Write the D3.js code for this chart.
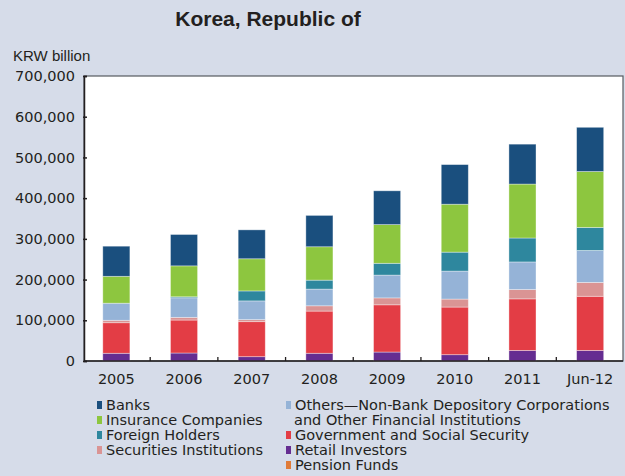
<!DOCTYPE html>
<html>
<head>
<meta charset="utf-8">
<script src="https://cdn.jsdelivr.net/npm/d3@7"></script>
<style>
  html, body { margin: 0; padding: 0; background: #d6dce9; }
  svg { display: block; }
  text { font-family: "DejaVu Sans", Verdana, sans-serif; fill: #231f20; }
</style>
</head>
<body>
<svg id="chart" width="625" height="476"></svg>
<script>
// Holdings of local-currency government bonds, KRW billion
const categories = ["2005", "2006", "2007", "2008", "2009", "2010", "2011", "Jun-12"];

const retail      = [19000, 19600, 10600, 19000, 22000, 15500, 26000, 26000];
const government  = [75000, 81000, 86000, 103600, 116000, 117000, 126600, 133000];
const pension     = [0, 0, 0, 0, 0, 0, 0, 0];
const securities  = [6000, 6600, 5000, 13000, 17000, 19600, 23000, 34000];
const others      = [42000, 48000, 46000, 41000, 56000, 68700, 67700, 78500];
const foreign     = [0, 2500, 24500, 22000, 29000, 46600, 58800, 56600];
const insurance   = [66000, 76000, 79000, 82000, 95000, 117700, 132500, 137300];
const banks       = [74000, 77000, 71000, 77000, 83000, 97300, 98000, 108600];

const yTicks = [0, 100000, 200000, 300000, 400000, 500000, 600000, 700000];

// stacking order, bottom to top
const seriesKeys = ["Retail", "Government", "Pension", "Securities", "Others", "Foreign", "Insurance", "Banks"];
const seriesValues = {
  Retail: retail, Government: government, Pension: pension, Securities: securities,
  Others: others, Foreign: foreign, Insurance: insurance, Banks: banks
};
const colors = {
  Banks: "#1a4f7e", Insurance: "#8dc63f", Foreign: "#2e879e", Securities: "#da9494",
  Others: "#95b3d7", Government: "#e33d45", Retail: "#652d91", Pension: "#e07b39"
};

const svg = d3.select("#chart");
const plot = { left: 84, right: 623, top: 76, bottom: 361 };

svg.append("text")
  .attr("x", 268).attr("y", 26)
  .attr("text-anchor", "middle")
  .style("font-family", "'Liberation Sans', Arial, sans-serif")
  .style("font-size", "21px").style("font-weight", "bold")
  .text("Korea, Republic of");

svg.append("text")
  .attr("x", 13).attr("y", 61)
  .style("font-family", "'Liberation Sans', Arial, sans-serif")
  .style("font-size", "15px")
  .text("KRW billion");

const x = d3.scaleBand()
  .domain(categories)
  .range([82.5, 624])
  .paddingInner(0.6)
  .paddingOuter(0.3);

const y = d3.scaleLinear()
  .domain([0, 700000])
  .range([plot.bottom, plot.top]);

// white plot area with frame
svg.append("rect")
  .attr("x", plot.left).attr("y", plot.top)
  .attr("width", plot.right - plot.left).attr("height", plot.bottom - plot.top)
  .attr("fill", "#ffffff")
  .attr("stroke", "#555a60").attr("stroke-width", 1.2);

const rows = categories.map((c, i) => {
  const r = { category: c };
  seriesKeys.forEach(k => { r[k] = seriesValues[k][i]; });
  return r;
});
const stacked = d3.stack().keys(seriesKeys)(rows);

svg.append("g").selectAll("g")
  .data(stacked)
  .join("g")
  .attr("fill", d => colors[d.key])
  .selectAll("rect")
  .data(d => d.filter(p => p[1] - p[0] > 0))
  .join("rect")
  .attr("x", d => x(d.data.category))
  .attr("width", x.bandwidth())
  .attr("y", d => y(d[1]))
  .attr("height", d => y(d[0]) - y(d[1]))
  .attr("stroke", "rgba(255,255,255,0.45)")
  .attr("stroke-width", 0.8);

// y axis, ticks pointing into the plot
const yAxis = d3.axisLeft(y)
  .tickValues(yTicks)
  .tickSize(-3)
  .tickPadding(9)
  .tickFormat(d => d === 0 ? "0" : d3.format(",")(d));
const yg = svg.append("g")
  .attr("transform", `translate(${plot.left},0)`)
  .call(yAxis);
yg.select(".domain").attr("stroke", "#231f20").attr("stroke-width", 1.5);
yg.selectAll(".tick line").attr("stroke", "#231f20").attr("stroke-width", 1.5)
  .attr("x1", -1).attr("x2", 3);
yg.selectAll(".tick text").style("font-size", "14.5px").style("font-family", "DejaVu Sans, Verdana, sans-serif").attr("fill", "#231f20");

// x axis: labels under each bar, tick marks between categories
const xg = svg.append("g")
  .attr("transform", `translate(0,${plot.bottom})`);
xg.append("line")
  .attr("x1", plot.left).attr("x2", plot.right)
  .attr("stroke", "#231f20").attr("stroke-width", 1.5);
xg.selectAll("line.sep")
  .data(categories.slice(1))
  .join("line")
  .attr("class", "sep")
  .attr("x1", d => x(d) - (x.step() - x.bandwidth()) / 2)
  .attr("x2", d => x(d) - (x.step() - x.bandwidth()) / 2)
  .attr("y1", 0).attr("y2", -4)
  .attr("stroke", "#231f20").attr("stroke-width", 1.3);
xg.selectAll("text")
  .data(categories)
  .join("text")
  .attr("x", d => x(d) + x.bandwidth() / 2)
  .attr("y", 23)
  .attr("text-anchor", "middle")
  .style("font-size", "14.5px")
  .text(d => d);

// legend in two columns
const legendItems = [
  { key: "Banks", lines: ["Banks"], col: 0, row: 0 },
  { key: "Insurance", lines: ["Insurance Companies"], col: 0, row: 1 },
  { key: "Foreign", lines: ["Foreign Holders"], col: 0, row: 2 },
  { key: "Securities", lines: ["Securities Institutions"], col: 0, row: 3 },
  { key: "Others", lines: ["Others\u2014Non-Bank Depository Corporations", "and Other Financial Institutions"], col: 1, row: 0 },
  { key: "Government", lines: ["Government and Social Security"], col: 1, row: 2 },
  { key: "Retail", lines: ["Retail Investors"], col: 1, row: 3 },
  { key: "Pension", lines: ["Pension Funds"], col: 1, row: 4 }
];
const colX = [97, 286];
const rowY0 = 405, rowStep = 15;
const lg = svg.append("g");
legendItems.forEach(item => {
  const gx = colX[item.col], gy = rowY0 + item.row * rowStep;
  lg.append("rect")
    .attr("x", gx).attr("y", gy - 4)
    .attr("width", 5).attr("height", 8)
    .attr("fill", colors[item.key]);
  item.lines.forEach((t, j) => {
    lg.append("text")
      .attr("x", gx + (j === 0 ? 9 : 8)).attr("y", gy + 5 + j * rowStep)
      .style("font-size", "14.5px")
      .text(t);
  });
});
</script>
</body>
</html>
